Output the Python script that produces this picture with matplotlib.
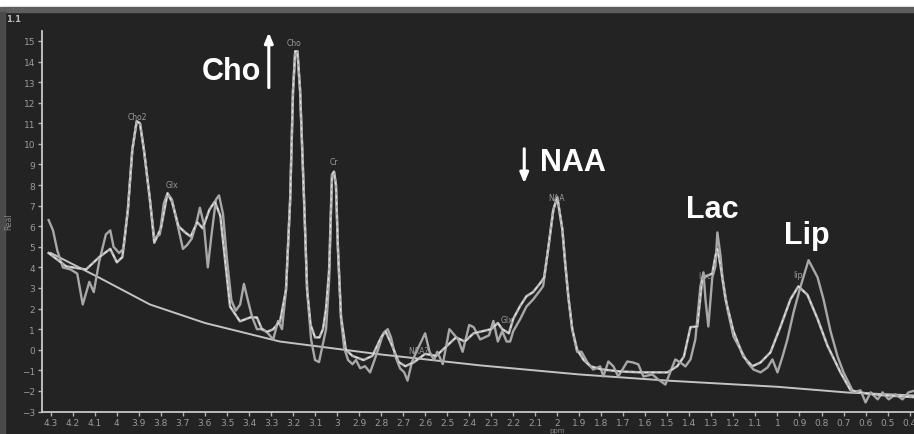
import matplotlib
matplotlib.use("Agg")
import matplotlib.pyplot as plt
from matplotlib.patches import Rectangle
import numpy as np

# measured spectrum (ppm, signal)
data_ppm = [4.31, 4.29, 4.27, 4.245, 4.21, 4.18, 4.155, 4.125, 4.105, 4.08, 4.05, 4.03, 4.015, 3.99, 3.97,
            3.95, 3.93, 3.91, 3.895, 3.877, 3.85, 3.83, 3.805, 3.787, 3.77, 3.75, 3.725, 3.70, 3.68, 3.66,
            3.64, 3.623, 3.605, 3.587, 3.57, 3.55, 3.536, 3.518, 3.50, 3.48, 3.46, 3.44, 3.423, 3.405, 3.386,
            3.364, 3.336, 3.314, 3.29, 3.268, 3.25, 3.232, 3.213, 3.20, 3.19, 3.18, 3.168, 3.15, 3.136, 3.118,
            3.10, 3.082, 3.064, 3.05, 3.036, 3.023, 3.014, 3.005, 2.996, 2.982, 2.968, 2.95, 2.93, 2.914, 2.895,
            2.873, 2.85, 2.83, 2.814, 2.79, 2.77, 2.755, 2.736, 2.714, 2.695, 2.68, 2.66, 2.64, 2.60, 2.58,
            2.56, 2.545, 2.52, 2.49, 2.45, 2.43, 2.40, 2.38, 2.35, 2.31, 2.29, 2.27, 2.25, 2.23, 2.214,
            2.20, 2.168, 2.14, 2.109, 2.077, 2.064, 2.04, 2.018, 2.0, 1.977, 1.964, 1.95, 1.932, 1.91, 1.89,
            1.864, 1.837, 1.805, 1.791, 1.768, 1.745, 1.723, 1.682, 1.655, 1.632, 1.609, 1.568, 1.541, 1.509, 1.487,
            1.464, 1.441, 1.418, 1.395, 1.373, 1.35, 1.336, 1.327, 1.314, 1.296, 1.282, 1.273, 1.259, 1.25, 1.227,
            1.2, 1.168, 1.136, 1.109, 1.077, 1.045, 1.023, 1.0, 0.977, 0.955, 0.927, 0.895, 0.859, 0.818, 0.791,
            0.759, 0.727, 0.7, 0.655, 0.623, 0.6, 0.577, 0.545, 0.523, 0.495, 0.464, 0.432, 0.405, 0.382]
data_val = [6.3, 5.8, 4.8, 4.0, 3.9, 3.7, 2.2, 3.3, 2.8, 4.3, 5.6, 5.8, 5.0, 4.7, 4.9,
            6.8, 9.7, 11.1, 11.0, 9.7, 7.3, 5.4, 5.6, 7.1, 7.6, 7.3, 6.1, 4.9, 5.1, 5.4,
            6.1, 6.9, 6.1, 4.0, 5.6, 7.3, 7.5, 6.6, 4.4, 2.4, 1.9, 2.2, 3.2, 2.4, 1.6,
            1.0, 1.0, 0.8, 0.5, 1.4, 1.0, 2.9, 7.3, 12.6, 14.5, 14.5, 12.6, 7.3, 2.9, 0.5,
            -0.5, -0.6, 0.3, 1.0, 3.4, 8.5, 8.65, 8.0, 4.9, 1.5, 0.1, -0.5, -0.7, -0.5, -0.9,
            -0.8, -1.1, -0.5, 0.0, 0.8, 1.0, 0.6, -0.3, -0.9, -1.1, -1.5, -0.6, -0.1, 0.8, -0.1,
            -0.5, -0.1, -0.7, 1.0, 0.5, -0.1, 1.2, 1.1, 0.5, 0.7, 1.4, 0.4, 0.9, 0.4, 0.4,
            0.9, 1.5, 2.1, 2.45, 2.9, 3.1, 5.0, 6.8, 7.4, 5.85, 4.2, 2.6, 1.0, -0.1, -0.1,
            -0.6, -0.96, -0.81, -1.3, -0.57, -0.81, -1.3, -0.57, -0.62, -0.71, -1.3, -1.2, -1.45, -1.69, -1.1,
            -0.47, -0.62, -0.81, -0.47, 0.5, 3.08, 3.76, 2.45, 1.13, 3.52, 4.05, 5.7, 4.6, 3.52, 1.96,
            0.65, 0.02, -0.62, -0.96, -1.1, -0.86, -0.47, -1.1, -0.33, 0.5, 1.82, 3.08, 4.35, 3.52, 2.45,
            0.9, -0.33, -1.1, -2.07, -1.97, -2.56, -2.07, -2.41, -2.07, -2.41, -2.17, -2.41, -2.07, -2.0]

# fitted spectrum
fit_ppm = [4.31, 4.23, 4.14, 4.08, 4.03, 4.0, 3.975, 3.95, 3.93, 3.91, 3.895, 3.877, 3.85, 3.83, 3.80,
           3.77, 3.75, 3.72, 3.69, 3.665, 3.635, 3.61, 3.58, 3.555, 3.53, 3.51, 3.486, 3.441, 3.395, 3.364,
           3.341, 3.318, 3.291, 3.259, 3.232, 3.213, 3.20, 3.19, 3.18, 3.168, 3.15, 3.136, 3.12, 3.10, 3.08,
           3.064, 3.05, 3.036, 3.023, 3.014, 3.005, 2.996, 2.982, 2.96, 2.93, 2.88, 2.84, 2.80, 2.78, 2.75,
           2.72, 2.69, 2.65, 2.60, 2.55, 2.50, 2.46, 2.42, 2.38, 2.34, 2.30, 2.27, 2.25, 2.22, 2.20,
           2.17, 2.14, 2.11, 2.08, 2.06, 2.04, 2.018, 2.0, 1.977, 1.964, 1.95, 1.932, 1.91, 1.88, 1.85,
           1.80, 1.72, 1.62, 1.55, 1.50, 1.455, 1.425, 1.395, 1.364, 1.341, 1.318, 1.296, 1.282, 1.273, 1.259,
           1.236, 1.2, 1.155, 1.114, 1.077, 1.032, 0.986, 0.941, 0.905, 0.864, 0.818, 0.773, 0.714, 0.668, 0.609,
           0.532, 0.382]
fit_val = [4.7, 4.05, 3.9, 4.5, 4.9, 4.25, 4.5, 6.8, 9.7, 11.1, 11.0, 9.7, 7.3, 5.2, 5.9,
           7.6, 7.2, 6.0, 5.7, 5.5, 6.2, 5.9, 6.8, 7.2, 6.5, 4.5, 2.1, 1.38, 1.57, 1.57,
           0.99, 0.87, 0.99, 1.38, 2.9, 7.3, 12.6, 14.5, 14.5, 12.6, 7.3, 2.9, 1.2, 0.6, 0.6,
           1.0, 2.0, 3.9, 8.5, 8.65, 8.0, 4.9, 1.6, 0.0, -0.3, -0.5, -0.3, 0.6, 0.9, 0.2,
           -0.6, -0.8, -0.6, -0.2, -0.3, 0.2, 0.6, 0.4, 0.8, 0.9, 1.0, 1.3, 1.0, 0.8, 1.5,
           2.1, 2.6, 2.8, 3.2, 3.5, 5.0, 6.8, 7.4, 5.85, 4.2, 2.6, 1.0, 0.0, -0.5, -0.8,
           -0.95, -1.05, -1.1, -1.1, -1.1, -0.8, -0.33, 1.1, 1.13, 3.5, 3.6, 3.7, 4.54, 4.9, 4.1,
           2.45, 0.9, -0.33, -0.8, -0.62, -0.13, 1.13, 2.45, 3.08, 2.67, 1.5, 0.2, -1.1, -1.97, -2.1,
           -2.2, -2.3]

# baseline
base_ppm = [4.3, 4.08, 3.85, 3.6, 3.26, 2.8, 2.35, 1.9, 1.5, 1.0, 0.68, 0.38]
base_val = [4.7, 3.5, 2.2, 1.3, 0.4, -0.23, -0.76, -1.2, -1.5, -1.8, -2.08, -2.22]

# small metabolite labels on the curves
small_labels = ["Cho2", "Glx", "Cho", "Cr", "NAA", "Glx", "NAA?", "Lac", "lip"]
small_x = [3.905, 3.75, 3.196, 3.014, 2.005, 2.227, 2.632, 1.328, 0.909]
small_y = [11.35, 8.04, 14.95, 9.16, 7.41, 1.48, -0.03, 3.62, 3.66]

# big white labels
big_labels = ["Cho", "NAA", "Lac", "Lip"]
big_x = [3.48, 1.927, 1.296, 0.868]
big_y = [13.54, 9.11, 6.83, 5.56]

bg = "#232323"
fig = plt.figure(figsize=(9.14, 4.35), dpi=100)
fig.patch.set_facecolor(bg)
# window frame bits
fig.add_artist(Rectangle((0, 1 - 8 / 435), 1, 8 / 435, transform=fig.transFigure, color="white", zorder=0))
fig.add_artist(Rectangle((0, 1 - 13 / 435), 1, 5 / 435, transform=fig.transFigure, color="#5e5e5e", zorder=0))
fig.add_artist(Rectangle((0, 0), 5 / 914, 1 - 13 / 435, transform=fig.transFigure, color="#4a4a4a", zorder=0))

ax = fig.add_axes([42 / 914, 22.5 / 435, 1 - 42 / 914, (412.5 - 31.7) / 435])
ax.set_facecolor(bg)

ax.plot(base_ppm, base_val, color="#c4c4c4", lw=1.4)
ax.plot(fit_ppm, fit_val, color="#b8b8b8", lw=1.8)
ax.plot(data_ppm, data_val, color="#a8a8a8", lw=1.7)
ax.plot(fit_ppm, fit_val, color="#e6e6e6", lw=0.8, ls=(0, (3, 3)))

ax.set_xlim(4.34, 0.38)
ax.set_ylim(-3, 15.5)

xt = np.round(np.arange(4.3, 0.35, -0.1), 1)
ax.set_xticks(xt)
ax.set_xticklabels([f"{v:g}" for v in xt])
ax.set_yticks(np.arange(-3, 16, 1))
ax.tick_params(direction="out", length=3, width=1, color="#b0b0b0", labelsize=6.5,
               labelcolor="#9a9a9a", pad=2)
for s in ["top", "right"]:
    ax.spines[s].set_visible(False)
for s in ["left", "bottom"]:
    ax.spines[s].set_color("#c8c8c8")
    ax.spines[s].set_linewidth(1.3)

for t, x, y in zip(small_labels, small_x, small_y):
    ax.text(x, y, t, color="#9a9a9a", fontsize=5.5, ha="center", va="center")

for t, x, y in zip(big_labels, big_x, big_y):
    ax.text(x, y, t, color="white", fontsize=22, fontweight="bold", family="Liberation Sans",
            ha="center", va="center")

# up arrow for Cho, down arrow for NAA
ax.annotate("", xy=(3.31, 15.55), xytext=(3.31, 12.6), annotation_clip=False,
            arrowprops=dict(arrowstyle="-|>,head_width=0.25,head_length=0.6", color="white", lw=2.2))
ax.annotate("", xy=(2.15, 7.95), xytext=(2.15, 9.9),
            arrowprops=dict(arrowstyle="-|>,head_width=0.25,head_length=0.6", color="white", lw=2.2))

ax.set_ylabel("Real", color="#8a8a8a", fontsize=5.5, labelpad=6)
fig.text(557 / 914, 1 / 435, "ppm", color="#8a8a8a", fontsize=5, ha="center", va="bottom")
fig.text(14 / 914, 1 - 20 / 435, "1.1", color="#bbbbbb", fontsize=6, fontweight="bold", ha="center", va="center")

fig.savefig("out.png", dpi=100, facecolor=bg)
